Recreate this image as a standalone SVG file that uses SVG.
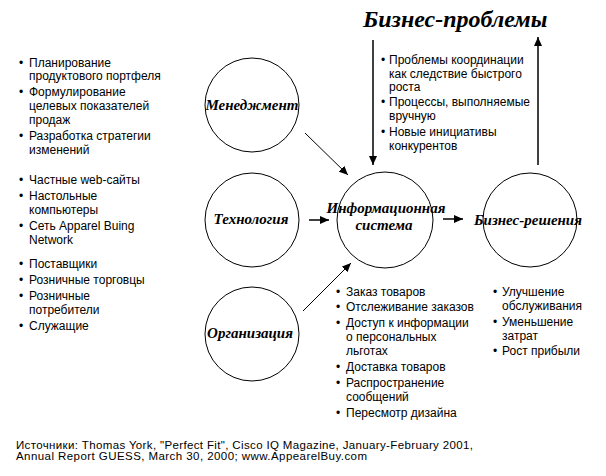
<svg xmlns="http://www.w3.org/2000/svg" width="606" height="476" viewBox="0 0 606 476">
<style>
.c{fill:#fff;stroke:#000;stroke-width:1}
.lbl{font-family:"Liberation Serif","Times New Roman",serif;font-weight:bold;font-style:italic;font-size:15px;fill:#000;text-anchor:middle}
.t{font-family:"Liberation Sans",Arial,sans-serif;font-size:12px;fill:#000}
.f{font-family:"Liberation Sans",Arial,sans-serif;font-size:11.5px;fill:#000}
.ttl{font-family:"Liberation Serif","Times New Roman",serif;font-weight:bold;font-style:italic;font-size:24px;fill:#000}
.ln{stroke:#000;stroke-width:1;fill:none}
.lnb{stroke:#000;stroke-width:1.5;fill:none}
</style>
<defs>
<marker id="ah" markerUnits="userSpaceOnUse" markerWidth="10" markerHeight="8" refX="9" refY="4" orient="auto">
<path d="M0,0 L9,4 L0,8 z" fill="#000"/>
</marker>
</defs>
<rect width="606" height="476" fill="#fff"/>

<text class="ttl" x="363" y="27">Бизнес-проблемы</text>

<g id="connectors">
<line class="lnb" x1="373" y1="40" x2="373" y2="165" marker-end="url(#ah)"/>
<line class="lnb" x1="538" y1="165" x2="538" y2="37" marker-end="url(#ah)"/>
<line class="ln" x1="305" y1="133" x2="348" y2="175" marker-end="url(#ah)"/>
<line class="lnb" x1="309" y1="220" x2="329" y2="220" marker-end="url(#ah)"/>
<line class="lnb" x1="443" y1="219" x2="463" y2="219" marker-end="url(#ah)"/>
<line class="ln" x1="303" y1="311" x2="351" y2="263" marker-end="url(#ah)"/>
</g>

<g id="management">
<circle class="c" cx="252" cy="105" r="47"/>
<text class="lbl" x="252" y="110">Менеджмент</text>
</g>
<g id="technology">
<circle class="c" cx="252" cy="220" r="47"/>
<text class="lbl" x="251" y="224">Технология</text>
</g>
<g id="organization">
<circle class="c" cx="252" cy="334" r="47"/>
<text class="lbl" x="250" y="338">Организация</text>
</g>
<g id="infosystem">
<circle class="c" cx="385" cy="220" r="48"/>
<text class="lbl" x="386" y="213">Информационная</text>
<text class="lbl" x="384" y="230">система</text>
</g>
<g id="solutions">
<circle class="c" cx="530" cy="220" r="47"/>
<text class="lbl" x="528" y="225">Бизнес-решения</text>
</g>

<g id="list-left" class="t">
<text x="19" y="67">•</text><text x="29" y="67">Планирование</text>
<text x="29" y="80">продуктового портфеля</text>
<text x="19" y="96">•</text><text x="29" y="96">Формулирование</text>
<text x="29" y="110">целевых показателей</text>
<text x="29" y="124">продаж</text>
<text x="19" y="140">•</text><text x="29" y="140">Разработка стратегии</text>
<text x="29" y="154">изменений</text>
<text x="19" y="184">•</text><text x="29" y="184">Частные web-сайты</text>
<text x="19" y="200">•</text><text x="29" y="200">Настольные</text>
<text x="29" y="214">компьютеры</text>
<text x="19" y="230">•</text><text x="29" y="230">Сеть Apparel Buing</text>
<text x="29" y="244">Network</text>
<text x="19" y="268">•</text><text x="29" y="268">Поставщики</text>
<text x="19" y="284">•</text><text x="29" y="284">Розничные торговцы</text>
<text x="19" y="300">•</text><text x="29" y="300">Розничные</text>
<text x="29" y="314">потребители</text>
<text x="19" y="330">•</text><text x="29" y="330">Служащие</text>
</g>

<g id="list-problems" class="t">
<text x="381" y="64">•</text><text x="389" y="64">Проблемы координации</text>
<text x="389" y="78">как следствие быстрого</text>
<text x="389" y="91">роста</text>
<text x="381" y="106">•</text><text x="389" y="106">Процессы, выполняемые</text>
<text x="389" y="120">вручную</text>
<text x="381" y="136">•</text><text x="389" y="136">Новые инициативы</text>
<text x="389" y="150">конкурентов</text>
</g>

<g id="list-is" class="t">
<text x="336" y="296">•</text><text x="346" y="296">Заказ товаров</text>
<text x="336" y="311">•</text><text x="346" y="311">Отслеживание заказов</text>
<text x="336" y="327">•</text><text x="346" y="327">Доступ к информации</text>
<text x="346" y="341">о персональных</text>
<text x="346" y="355">льготах</text>
<text x="336" y="371">•</text><text x="346" y="371">Доставка товаров</text>
<text x="336" y="387">•</text><text x="346" y="387">Распространение</text>
<text x="346" y="401">сообщений</text>
<text x="336" y="417">•</text><text x="346" y="417">Пересмотр дизайна</text>
</g>

<g id="list-solutions" class="t">
<text x="493" y="296">•</text><text x="502" y="296">Улучшение</text>
<text x="502" y="310">обслуживания</text>
<text x="493" y="326">•</text><text x="502" y="326">Уменьшение</text>
<text x="502" y="340">затрат</text>
<text x="493" y="355">•</text><text x="502" y="355">Рост прибыли</text>
</g>

<g id="footer" class="f">
<text x="16" y="449" textLength="457" lengthAdjust="spacing">Источники: Thomas York, "Perfect Fit", Cisco IQ Magazine, January-February 2001,</text>
<text x="16" y="460" textLength="351" lengthAdjust="spacing">Annual Report GUESS, March 30, 2000; www.AppearelBuy.com</text>
</g>
</svg>
